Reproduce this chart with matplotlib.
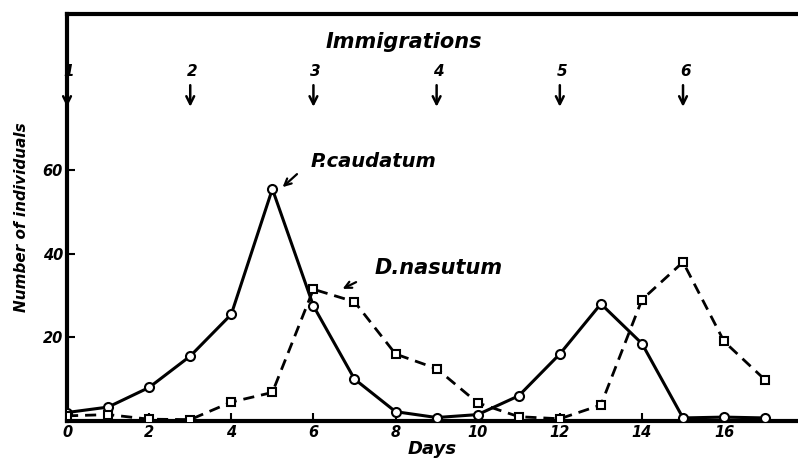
import matplotlib
matplotlib.use("Agg")
import matplotlib.pyplot as plt

# ---- data ----
days = list(range(18))
caudatum = [2, 3.3, 8, 15.5, 25.5, 55.5, 27.5, 10, 2.2, 0.8, 1.5, 6, 16, 28, 18.5, 0.7, 0.9, 0.7]
nasutum = [1.2, 1.5, 0.4, 0.3, 4.5, 6.8, 31.5, 28.5, 16, 12.5, 4.3, 1, 0.5, 3.8, 29, 38, 19, 9.8]
immigration_days = [0, 3, 6, 9, 12, 15]
immigration_labels = ["1", "2", "3", "4", "5", "6"]
xticks = [0, 2, 4, 6, 8, 10, 12, 14, 16]
yticks = [20, 40, 60]

FONT = dict(family="DejaVu Sans", style="italic", fontweight="bold")

fig = plt.figure(figsize=(7.98, 4.63), dpi=100)
ax = fig.add_axes([0.084, 0.091, 0.916, 0.879])

ax.plot(days, caudatum, "-", color="black", lw=2.2,
        marker="o", ms=6.5, mfc="white", mec="black", mew=1.5, zorder=3)
ax.plot(days, nasutum, "--", color="black", lw=2.0, dashes=(4, 2.5),
        marker="s", ms=6, mfc="white", mec="black", mew=1.5, zorder=3)

ax.set_xlim(0, 17.8)
ax.set_ylim(0, 97.4)

for side in ["top", "left", "bottom"]:
    ax.spines[side].set_linewidth(3)
ax.spines["right"].set_visible(False)

ax.set_xticks(xticks)
ax.set_xticklabels([str(t) for t in xticks], **FONT, fontsize=10.5)
ax.set_yticks(yticks)
ax.set_yticklabels([str(t) for t in yticks], **FONT, fontsize=10.5)
ax.tick_params(direction="in", length=6, width=1.5, pad=3)

ax.set_xlabel("Days", **FONT, fontsize=13, labelpad=0)
ax.set_ylabel("Number of individuals", **FONT, fontsize=11, labelpad=10)

# immigration arrows
ax.text(8.2, 90.6, "Immigrations", **FONT, fontsize=15, ha="center", va="center")
for d, lab in zip(immigration_days, immigration_labels):
    ax.text(d + 0.05, 83.5, lab, **FONT, fontsize=11, ha="center", va="center")
    ax.annotate("", xy=(d, 74.5), xytext=(d, 81),
                arrowprops=dict(arrowstyle="->", lw=1.8, color="black",
                                mutation_scale=14))

# species labels with little pointer arrows
ax.text(5.93, 62, "P.caudatum", **FONT, fontsize=14, ha="left", va="center")
ax.annotate("", xy=(5.2, 55.5), xytext=(5.65, 59.5),
            arrowprops=dict(arrowstyle="->", lw=1.6, color="black", mutation_scale=12))
ax.text(7.5, 36.7, "D.nasutum", **FONT, fontsize=15, ha="left", va="center")
ax.annotate("", xy=(6.65, 31.3), xytext=(7.1, 33.5),
            arrowprops=dict(arrowstyle="->", lw=1.6, color="black", mutation_scale=12))

fig.savefig("out.png", dpi=100)
